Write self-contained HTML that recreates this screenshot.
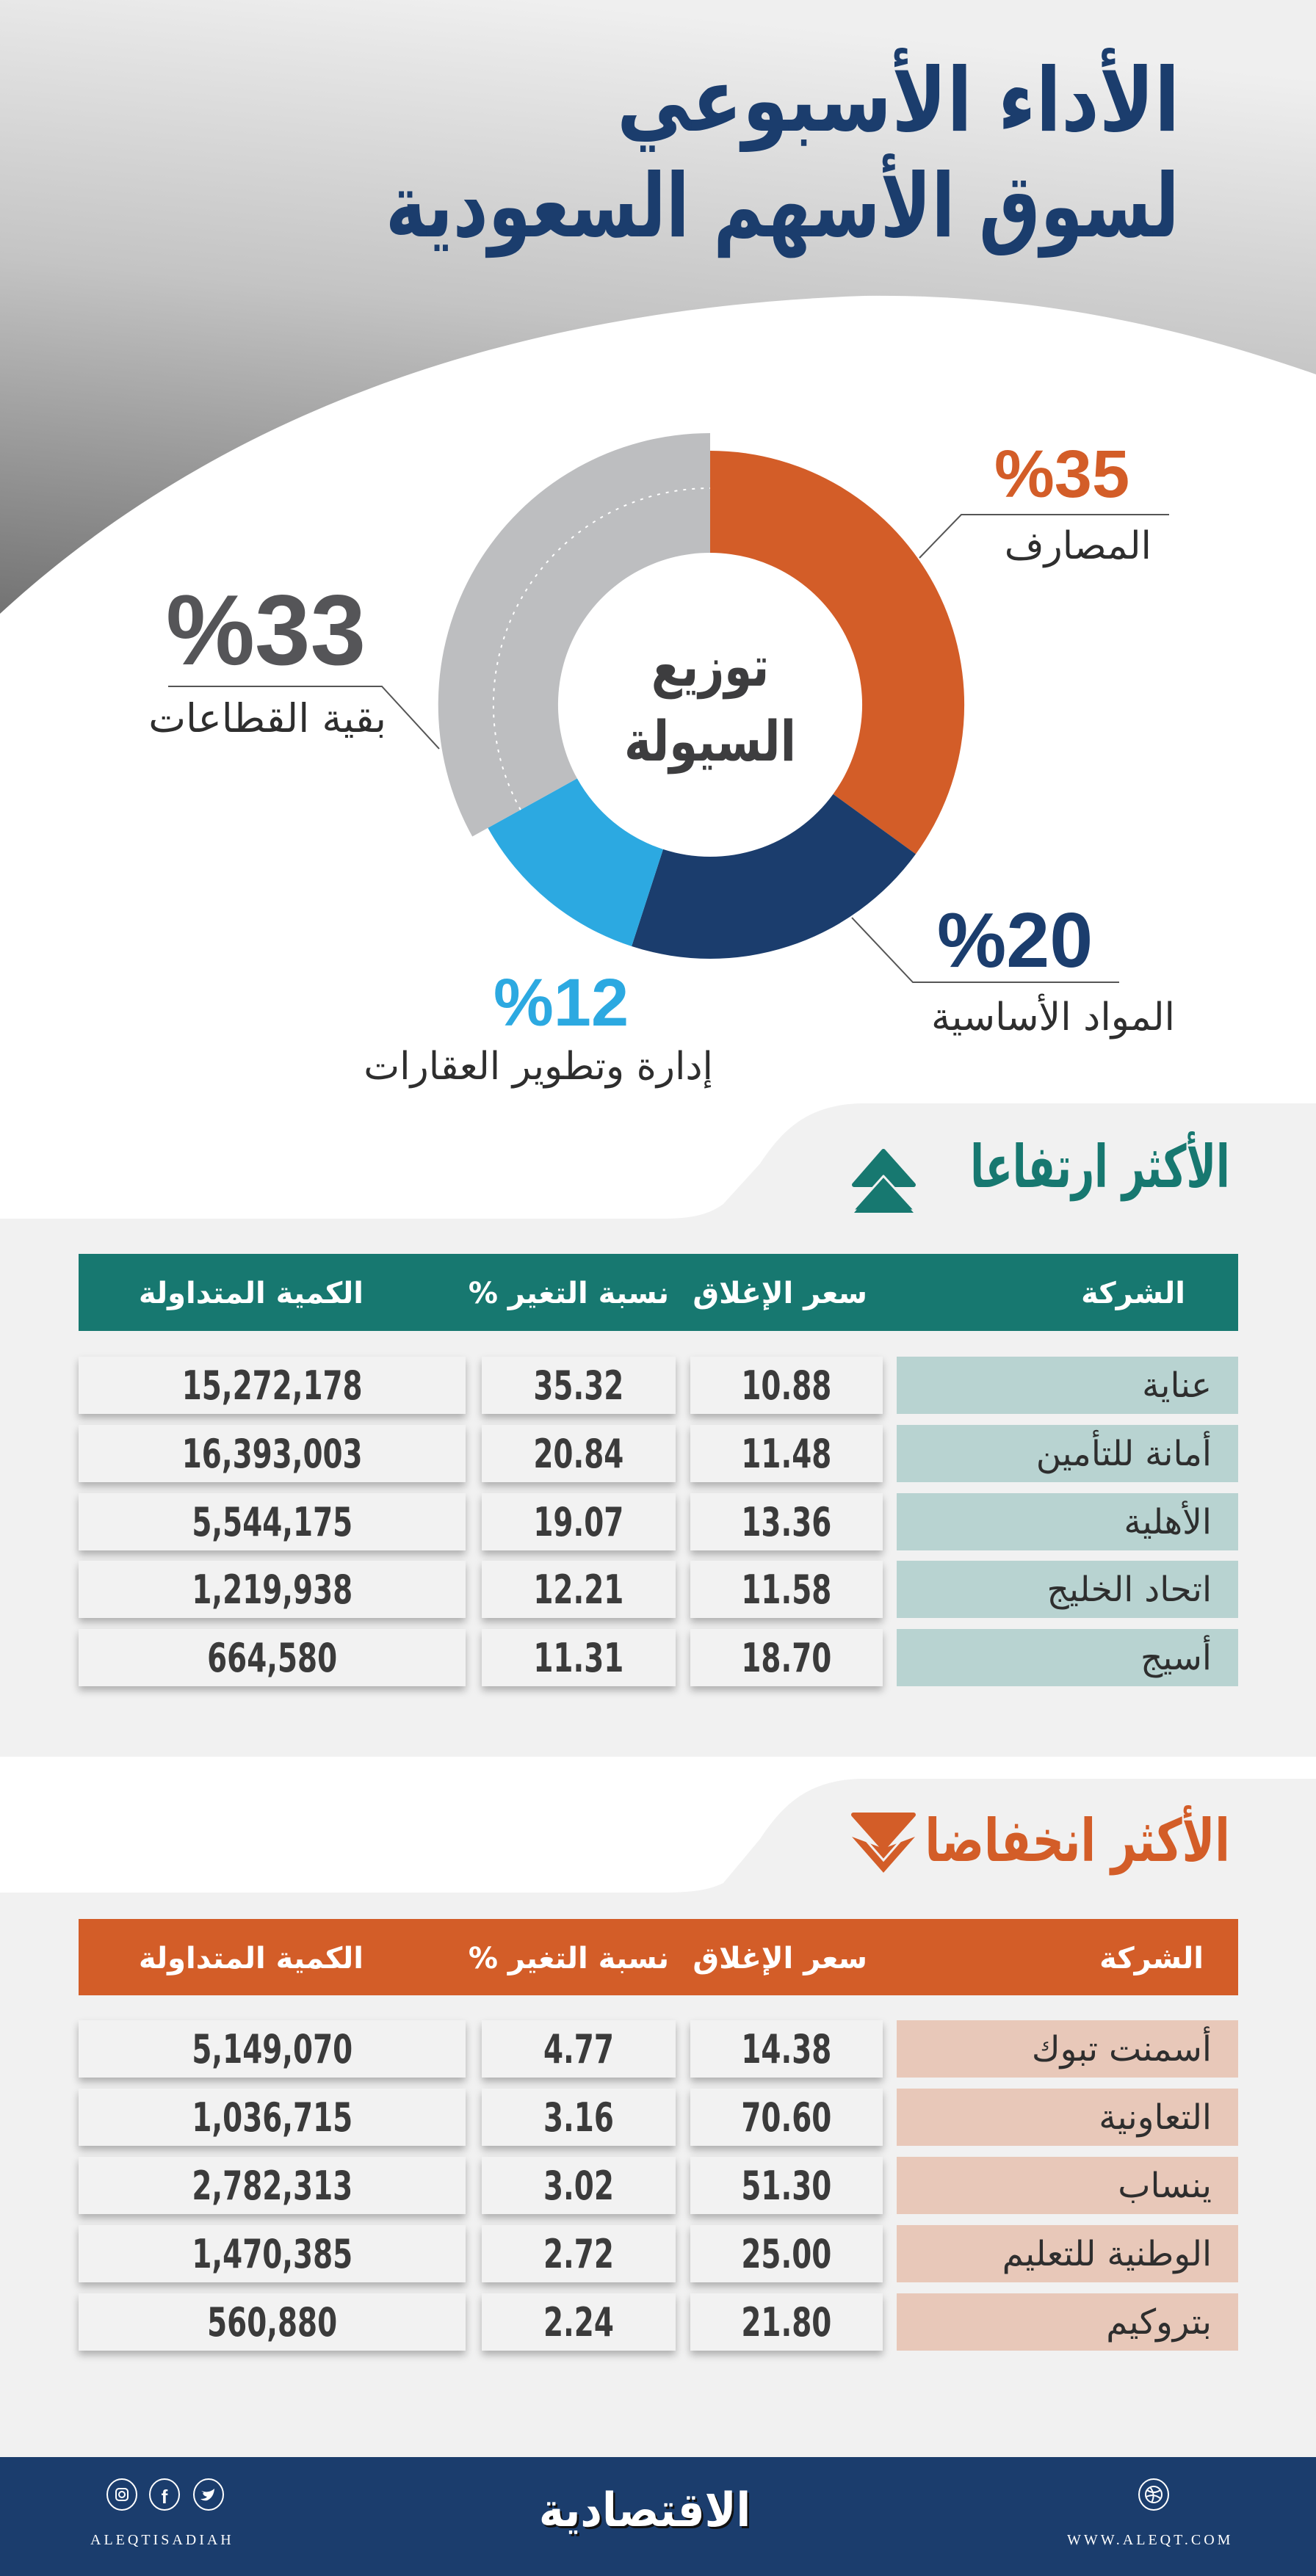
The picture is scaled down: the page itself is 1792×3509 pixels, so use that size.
<!DOCTYPE html>
<html><head><meta charset="utf-8">
<style>
*{margin:0;padding:0;box-sizing:border-box}
body{width:1792px;height:3509px;position:relative;overflow:hidden;background:#fff;font-family:"DejaVu Sans",sans-serif}
.a{position:absolute;white-space:nowrap;line-height:1}
.ar{direction:rtl;text-align:right}
.cell{position:absolute;height:78px;display:flex;align-items:center;justify-content:center;font-family:"Liberation Sans Narrow","DejaVu Sans Condensed",sans-serif;font-weight:bold;font-size:54px;color:#3b3b3b;background:#f2f2f2;box-shadow:0 6px 10px rgba(0,0,0,0.28)}
.cell span{display:inline-block;transform:scaleX(0.8)}
.co{position:absolute;height:78px;display:flex;align-items:center;justify-content:flex-start;direction:rtl;padding-right:36px;font-family:"DejaVu Sans",sans-serif;font-size:47px;color:#2e2e2e}
.hd{position:absolute;font-family:"DejaVu Sans",sans-serif;font-weight:bold;font-size:40px;color:#fff;direction:rtl;white-space:nowrap;line-height:1}
</style></head><body>
<svg width="1792" height="3509" style="position:absolute;left:0;top:0">
<defs>
<linearGradient id="g" x1="0.4" y1="0" x2="0.2" y2="1">
<stop offset="0" stop-color="#efefef"/><stop offset="0.45" stop-color="#c4c4c4"/><stop offset="1" stop-color="#6e6e6e"/>
</linearGradient>
</defs>
<rect x="0" y="0" width="1792" height="900" fill="url(#g)"/>
<path d="M0,836 C300,560 700,420 1177,403 C1420,400 1620,450 1792,510 L1792,1000 L0,1000 Z" fill="#fff"/>
<path d="M1792,1503 L1177,1503 C1100,1503 1065,1540 1035,1585 L985,1640 C965,1655 940,1660 903,1660 L0,1660 L0,2393 L1792,2393 Z" fill="#f1f1f1"/>
<path d="M1792,2423 L1177,2423 C1100,2423 1065,2460 1035,2505 L985,2565 C965,2575 940,2578 903,2578 L0,2578 L0,3347 L1792,3347 Z" fill="#f1f1f1"/>
<rect x="0" y="3347" width="1792" height="162" fill="#1b3d6d"/>
<path d="M967,614 A346,346 0 0 1 1247,1163.4 L1134.5,1081.7 A207,207 0 0 0 967,753 Z" fill="#d35d28"/>
<path d="M1247,1163.4 A346,346 0 0 1 860.1,1289 L903,1156.9 A207,207 0 0 0 1134.5,1081.7 Z" fill="#1b3d6d"/>
<path d="M860.1,1289 A346,346 0 0 1 664.3,1127.8 L785.9,1060.4 A207,207 0 0 0 903,1156.9 Z" fill="#2ca9e1"/>
<path d="M643.2,1139.5 A370,370 0 0 1 967,590 L967,753 A207,207 0 0 0 785.9,1060.4 Z" fill="#bdbec0"/>
<path d="M708.9,1103.1 A295,295 0 0 1 967,665" fill="none" stroke="#fff" stroke-width="2" stroke-dasharray="4,8"/>
<polyline points="1252,760 1309,701 1592,701" fill="none" stroke="#555" stroke-width="2"/>
<polyline points="598,1020 520,935 229,935" fill="none" stroke="#555" stroke-width="2"/>
<polyline points="1160,1250 1243,1338 1524,1338" fill="none" stroke="#555" stroke-width="2"/>
<path d="M1203,1568 L1244,1614 L1163,1614 Z" fill="#177870" stroke="#177870" stroke-width="6" stroke-linejoin="round"/>
<path d="M1203,1602 L1246,1649 L1161,1649 Z" fill="#177870" stroke="#f1f1f1" stroke-width="3" stroke-linejoin="round"/>
<path d="M1163,1652 L1244,1652 L1203,1606 Z" fill="#177870"/>
<path d="M1162,2472 L1244,2472 L1203,2518 Z" fill="#d35d28" stroke="#d35d28" stroke-width="6" stroke-linejoin="round"/>
<path d="M1203,2518 L1246,2502 L1203,2551 L1160,2502 Z" fill="#d35d28"/>
<path d="M1175,2502 L1203,2534 L1231,2502" fill="none" stroke="#f1f1f1" stroke-width="3"/>
<rect x="107" y="1708" width="1579" height="105" fill="#177870"/>
<rect x="107" y="2614" width="1579" height="104" fill="#d35d28"/>
<g fill="none" stroke="#fff" stroke-width="2">
<ellipse cx="166" cy="3398" rx="20" ry="21"/><ellipse cx="224" cy="3398" rx="20" ry="21"/><ellipse cx="284" cy="3398" rx="20" ry="21"/><ellipse cx="1571" cy="3398" rx="20" ry="21"/>
<rect x="158" y="3390" width="16" height="16" rx="4"/><circle cx="166" cy="3398" r="4"/>
<circle cx="1571" cy="3398" r="11"/><path d="M1562,3392 Q1571,3398 1580,3392 M1566,3388 Q1574,3398 1568,3409 M1561,3401 Q1572,3396 1581,3404"/>
</g>
<text x="224" y="3410" fill="#fff" font-family="Liberation Sans" font-weight="bold" font-size="26" text-anchor="middle">f</text>
<path d="M274,3393 Q284,3397 292,3390 Q291,3402 282,3406 Q277,3407 273,3404 Q280,3404 282,3401 Q277,3400 276,3396 Q280,3397 274,3393 Z" fill="#fff"/>
</svg>

<div class="a ar" style="right:186px;top:78px;font-size:120px;font-weight:bold;color:#1b3d6d;transform:scaleX(0.84);transform-origin:right center">الأداء الأسبوعي</div>
<div class="a ar" style="right:186px;top:222px;font-size:120px;font-weight:bold;color:#1b3d6d;transform:scaleX(0.78);transform-origin:right center">لسوق الأسهم السعودية</div>

<div class="a" style="left:1354px;top:600px;font-family:'Liberation Sans',sans-serif;font-weight:bold;font-size:92px;color:#d35d28">%35</div>
<div class="a ar" style="right:224px;top:718px;font-size:52px;color:#2e2e2e">المصارف</div>
<div class="a" style="left:226px;top:790px;font-family:'Liberation Sans',sans-serif;font-weight:bold;font-size:136px;color:#555558">%33</div>
<div class="a ar" style="right:1266px;top:952px;font-size:54px;color:#2e2e2e">بقية القطاعات</div>
<div class="a" style="left:1276px;top:1228px;font-family:'Liberation Sans',sans-serif;font-weight:bold;font-size:106px;color:#1b3d6d">%20</div>
<div class="a ar" style="right:192px;top:1360px;font-size:52px;color:#2e2e2e">المواد الأساسية</div>
<div class="a" style="left:672px;top:1320px;font-family:'Liberation Sans',sans-serif;font-weight:bold;font-size:92px;color:#2ca9e1">%12</div>
<div class="a ar" style="right:821px;top:1427px;font-size:52px;color:#2e2e2e">إدارة وتطوير العقارات</div>
<div class="a" style="left:767px;top:870px;width:400px;text-align:center;font-size:76px;font-weight:bold;color:#3d3d3f;direction:rtl;transform:scaleX(0.8)">توزيع</div>
<div class="a" style="left:767px;top:972px;width:400px;text-align:center;font-size:76px;font-weight:bold;color:#3d3d3f;direction:rtl;transform:scaleX(0.82)">السيولة</div>

<div class="a ar" style="right:117px;top:1550px;font-size:80px;font-weight:bold;color:#177870;transform:scaleX(0.68);transform-origin:right center">الأكثر ارتفاعا</div>
<div class="a ar" style="right:117px;top:2468px;font-size:80px;font-weight:bold;color:#d35d28;transform:scaleX(0.75);transform-origin:right center">الأكثر انخفاضا</div>

<div class="hd" style="right:178px;top:1742px">الشركة</div>
<div class="hd" style="right:611px;top:1742px">سعر الإغلاق</div>
<div class="hd" style="right:881px;top:1742px">نسبة التغير %</div>
<div class="hd" style="right:1297px;top:1742px">الكمية المتداولة</div>
<div class="hd" style="right:153px;top:2648px">الشركة</div>
<div class="hd" style="right:611px;top:2648px">سعر الإغلاق</div>
<div class="hd" style="right:881px;top:2648px">نسبة التغير %</div>
<div class="hd" style="right:1297px;top:2648px">الكمية المتداولة</div>

<div class="cell" style="left:107px;top:1848px;width:527px"><span>15,272,178</span></div><div class="cell" style="left:656px;top:1848px;width:264px"><span>35.32</span></div><div class="cell" style="left:940px;top:1848px;width:262px"><span>10.88</span></div><div class="co" style="left:1221px;top:1848px;width:465px;background:#b8d3d1">عناية</div>
<div class="cell" style="left:107px;top:1941px;width:527px"><span>16,393,003</span></div><div class="cell" style="left:656px;top:1941px;width:264px"><span>20.84</span></div><div class="cell" style="left:940px;top:1941px;width:262px"><span>11.48</span></div><div class="co" style="left:1221px;top:1941px;width:465px;background:#b8d3d1">أمانة للتأمين</div>
<div class="cell" style="left:107px;top:2034px;width:527px"><span>5,544,175</span></div><div class="cell" style="left:656px;top:2034px;width:264px"><span>19.07</span></div><div class="cell" style="left:940px;top:2034px;width:262px"><span>13.36</span></div><div class="co" style="left:1221px;top:2034px;width:465px;background:#b8d3d1">الأهلية</div>
<div class="cell" style="left:107px;top:2126px;width:527px"><span>1,219,938</span></div><div class="cell" style="left:656px;top:2126px;width:264px"><span>12.21</span></div><div class="cell" style="left:940px;top:2126px;width:262px"><span>11.58</span></div><div class="co" style="left:1221px;top:2126px;width:465px;background:#b8d3d1">اتحاد الخليج</div>
<div class="cell" style="left:107px;top:2219px;width:527px"><span>664,580</span></div><div class="cell" style="left:656px;top:2219px;width:264px"><span>11.31</span></div><div class="cell" style="left:940px;top:2219px;width:262px"><span>18.70</span></div><div class="co" style="left:1221px;top:2219px;width:465px;background:#b8d3d1">أسيج</div>

<div class="cell" style="left:107px;top:2752px;width:527px"><span>5,149,070</span></div><div class="cell" style="left:656px;top:2752px;width:264px"><span>4.77</span></div><div class="cell" style="left:940px;top:2752px;width:262px"><span>14.38</span></div><div class="co" style="left:1221px;top:2752px;width:465px;background:#e8c8b9">أسمنت تبوك</div>
<div class="cell" style="left:107px;top:2845px;width:527px"><span>1,036,715</span></div><div class="cell" style="left:656px;top:2845px;width:264px"><span>3.16</span></div><div class="cell" style="left:940px;top:2845px;width:262px"><span>70.60</span></div><div class="co" style="left:1221px;top:2845px;width:465px;background:#e8c8b9">التعاونية</div>
<div class="cell" style="left:107px;top:2938px;width:527px"><span>2,782,313</span></div><div class="cell" style="left:656px;top:2938px;width:264px"><span>3.02</span></div><div class="cell" style="left:940px;top:2938px;width:262px"><span>51.30</span></div><div class="co" style="left:1221px;top:2938px;width:465px;background:#e8c8b9">ينساب</div>
<div class="cell" style="left:107px;top:3031px;width:527px"><span>1,470,385</span></div><div class="cell" style="left:656px;top:3031px;width:264px"><span>2.72</span></div><div class="cell" style="left:940px;top:3031px;width:262px"><span>25.00</span></div><div class="co" style="left:1221px;top:3031px;width:465px;background:#e8c8b9">الوطنية للتعليم</div>
<div class="cell" style="left:107px;top:3124px;width:527px"><span>560,880</span></div><div class="cell" style="left:656px;top:3124px;width:264px"><span>2.24</span></div><div class="cell" style="left:940px;top:3124px;width:262px"><span>21.80</span></div><div class="co" style="left:1221px;top:3124px;width:465px;background:#e8c8b9">بتروكيم</div>

<div class="a" style="left:123px;top:3450px;font-family:'Liberation Serif',serif;font-size:20px;letter-spacing:4px;color:#fff">ALEQTISADIAH</div>
<div class="a" style="left:1453px;top:3450px;font-family:'Liberation Serif',serif;font-size:20px;letter-spacing:4px;color:#fff">WWW.ALEQT.COM</div>
<div class="a" style="left:760px;top:3388px;width:276px;text-align:center;direction:rtl;font-size:64px;font-weight:bold;color:#fff;text-shadow:3px 3px 0 #111;transform:scaleX(0.9)">الاقتصادية</div>
</body></html>
